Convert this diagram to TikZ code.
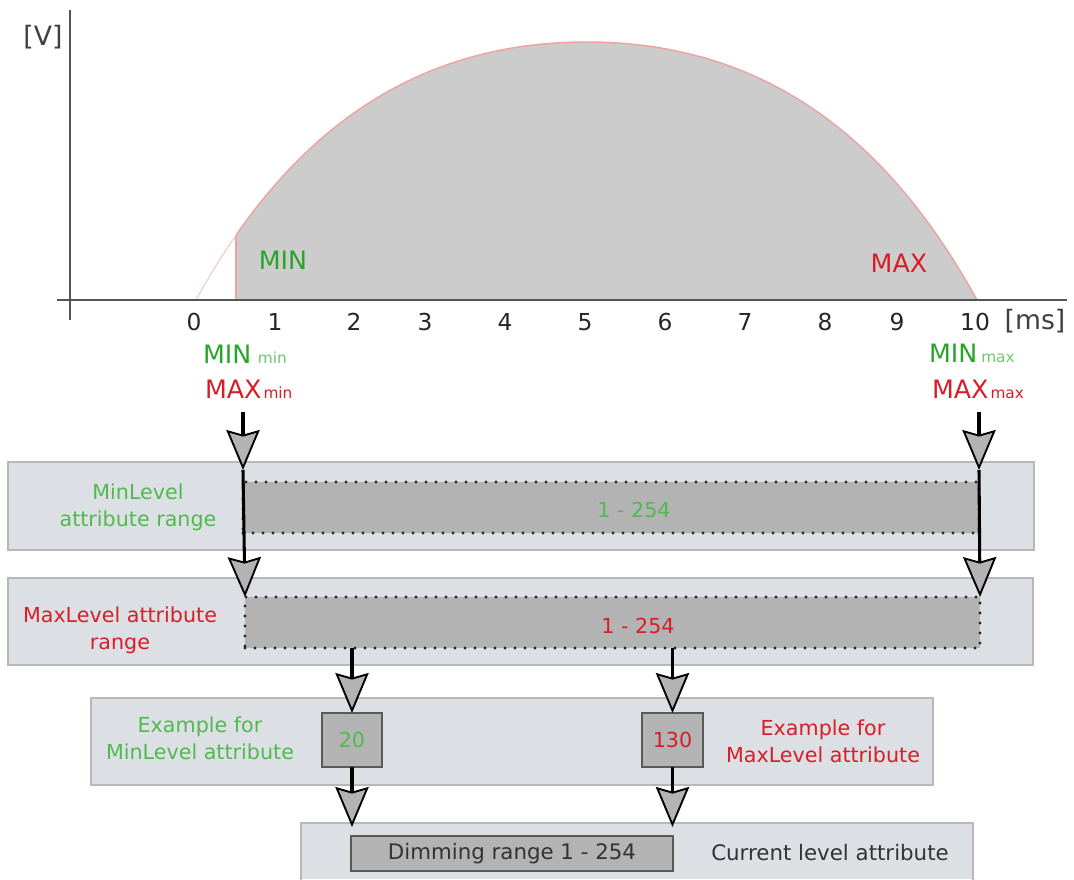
\documentclass[tikz,border=0pt]{standalone}
\usepackage{fontspec}
\setmainfont{DejaVu Sans}
\usetikzlibrary{arrows.meta,fit}

\definecolor{bandfill}{HTML}{DCDFE3}
\definecolor{bandline}{HTML}{B8B8B8}
\definecolor{slot}{HTML}{B3B3B3}
\definecolor{curvegray}{HTML}{CCCCCC}
\definecolor{curvepink}{HTML}{EFA2A2}
\definecolor{axisgray}{HTML}{555555}
\definecolor{mingreen}{RGB}{40,165,40}
\definecolor{lightgreen}{RGB}{80,185,80}
\definecolor{subgreen}{RGB}{110,200,110}
\definecolor{maxred}{RGB}{215,30,40}
\definecolor{ink}{HTML}{333333}

\begin{document}
\begin{tikzpicture}[x=0.75pt,y=-0.75pt,
  every node/.style={inner sep=0pt,outer sep=0pt},
  band/.style={draw=bandline,fill=bandfill,line width=0.9pt},
  slotbox/.style={fill=slot,draw=black!85,line width=2.3pt,
    dash pattern=on 0pt off 7.5pt,line cap=round},
  valbox/.style={fill=slot,draw=black!65,line width=1.2pt},
  flow/.style={line width=2.3pt,
    -{Stealth[length=30pt,width=25pt,inset=3.5pt,fill=slot,line width=1.4pt]}},
  axis/.style={draw=axisgray,line width=2.2pt},
  lbl/.style={font=\fontsize{15.5}{20}\selectfont,align=center},
  tick/.style={font=\fontsize{17.5}{20}\selectfont,text=black!85},
  big/.style={font=\fontsize{19}{22}\selectfont},
  unit/.style={font=\fontsize{20}{22}\selectfont,text=black!75},
]
\useasboundingbox (0,0) rectangle (1074,879);

% ---------- voltage half wave ----------
\begin{scope}
  \clip (236,0) rectangle (1000,300);
  \fill[curvegray] (196,300) .. controls (274.1,158.1) and (391.25,42) .. (586.5,42)
    .. controls (781.75,42) and (898.9,158.1) .. (977,300) -- cycle;
\end{scope}
\begin{scope}
  \clip (196,300) .. controls (274.1,158.1) and (391.25,42) .. (586.5,42)
    .. controls (781.75,42) and (898.9,158.1) .. (977,300) -- cycle;
  \draw[curvepink,line width=1.2pt] (236,301) -- (236,0);
\end{scope}
\begin{scope}
  \clip (0,0) rectangle (236,310);
  \draw[curvepink!70,line width=0.7pt] (196,300) .. controls (274.1,158.1) and (391.25,42) .. (586.5,42);
\end{scope}
\begin{scope}
  \clip (236,0) rectangle (1074,310);
  \draw[curvepink,line width=1.1pt] (196,300) .. controls (274.1,158.1) and (391.25,42) .. (586.5,42)
    .. controls (781.75,42) and (898.9,158.1) .. (977,300);
\end{scope}

% axes
\draw[axis] (70,10) -- (70,320);
\draw[axis] (57,300) -- (1067,300);
\node[unit] (vunit) at (43,37) {[V]};
\node[unit] (msunit) at (1035,321) {[ms]};
\foreach \v/\x in {0/194,1/275,2/354,3/425,4/505,5/585,6/665,7/745,8/825,9/897,10/975}
  \node[tick] (tick\v) at (\x,322) {\v};

\node[big,text=mingreen] (minlbl) at (283,260) {MIN};
\node[big,text=maxred] (maxlbl) at (899,263) {MAX};

\node[big,text=mingreen,anchor=base west] (minmin) at (203,363)
  {MIN\hspace{5pt}{\fontsize{11.5}{12}\selectfont\color{subgreen}min}};
\node[big,text=maxred,anchor=base west] (maxmin) at (205,398)
  {MAX\hspace{1.5pt}{\fontsize{11.5}{12}\selectfont min}};
\node[big,text=mingreen,anchor=base west] (minmax) at (929,362)
  {MIN\hspace{3pt}{\fontsize{11.5}{12}\selectfont\color{subgreen}max}};
\node[big,text=maxred,anchor=base west] (maxmax) at (932,398)
  {MAX\hspace{1.5pt}{\fontsize{11.5}{12}\selectfont max}};

% ---------- attribute bands ----------
\node[band,fit={(8,462) (1034,550)}] (band1) {};
\node[band,fit={(8,578) (1033,665)}] (band2) {};
\node[band,fit={(91,698) (933,785)}] (band3) {};
\fill[bandfill] (301,823) rectangle (973,879);
\draw[bandline,line width=0.9pt] (301,880) -- (301,823) -- (973,823) -- (973,880);
\coordinate (band4) at (637,823);

\node[slotbox,fit={(243,482) (979,533)}] (slot1) {};
\node[slotbox,fit={(245,597) (980,648)}] (slot2) {};

\node[lbl,text=lightgreen] (minrange) at (138,507) {MinLevel\\attribute range};
\node[lbl,text=lightgreen] (minvals) at (634,510) {1 - 254};
\node[lbl,text=maxred] (maxrange) at (120,630) {MaxLevel attribute\\range};
\node[lbl,text=maxred] (maxvals) at (638,626) {1 - 254};

\node[lbl,text=lightgreen] (minex) at (200,738) {Example for\\MinLevel attribute};
\node[lbl,text=maxred] (maxex) at (823,741) {Example for\\MaxLevel attribute};
\node[valbox,lbl,text=lightgreen,minimum width=45pt,minimum height=40.5pt] (v20) at (352,740) {20};
\node[valbox,lbl,text=maxred,minimum width=45.75pt,minimum height=40.5pt] (v130) at (672.5,740) {130};

\node[valbox,font=\fontsize{16}{18}\selectfont,text=ink,minimum width=241.5pt,minimum height=26.25pt]
  (dimming) at (512,853.5) {Dimming range 1 - 254};
\node[font=\fontsize{16}{18}\selectfont,text=ink] (current) at (830,853) {Current level attribute};

% ---------- connectors ----------
\coordinate (inL) at (243,412);
\coordinate (inR) at (979,412);
\coordinate (hitL) at (243,470);
\coordinate (hitR) at (979,470);
\draw[flow] (inL) -- (hitL);
\draw[flow] (hitL) -- (slot2.north west);
\draw[flow] (inR) -- (hitR);
\draw[flow] (hitR) -- (slot2.north east);
\draw[flow] (slot2.south -| v20) -- (v20.north);
\draw[flow] (slot2.south -| v130) -- (v130.north);
\draw[flow] (v20.south) -- ++(0,60);
\draw[flow] (v130.south) -- ++(0,60);
\end{tikzpicture}
\end{document}
